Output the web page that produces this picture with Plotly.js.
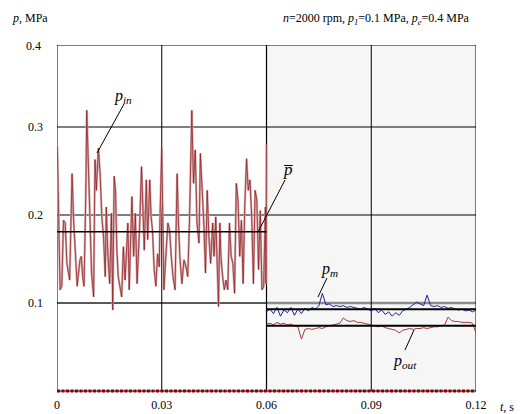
<!DOCTYPE html>
<html>
<head>
<meta charset="utf-8">
<script src="https://cdn.plot.ly/plotly-3.0.1.min.js"></script>
<style>html,body{margin:0;padding:0;background:#fff;}#chart{width:521px;height:414px;}</style>
</head>
<body>
<div id="chart"></div>
<script>
// ---- data ----
const xTickVals = [0, 0.03, 0.06, 0.09, 0.12];
const xTickText = ["0", "0.03", "0.06", "0.09", "0.12"];
const yTickVals = [0.1, 0.2, 0.3];
const yTickText = ["0.1", "0.2", "0.3"];

// inlet pressure p_in, first half (time in ms)
const tInMs = [0.10,0.88,1.37,1.86,2.35,2.84,3.63,4.31,4.80,5.29,5.78,6.57,6.96,7.35,7.74,8.23,8.53,8.92,9.51,9.90,
  10.49,10.88,11.27,11.86,12.35,12.84,13.33,13.82,14.11,14.60,15.09,15.58,15.97,16.37,16.76,17.15,17.54,18.03,18.52,19.01,
  19.50,20.29,20.68,21.46,21.95,22.44,22.93,23.62,24.21,24.60,24.99,25.58,25.97,26.56,26.95,27.34,27.83,28.32,28.81,29.30,
  29.50,30.00,30.60,31.75,32.24,32.73,33.22,33.81,34.40,34.79,35.18,35.77,36.36,36.95,37.44,37.93,38.61,39.10,39.59,40.08,
  40.67,41.06,41.55,42.04,42.53,43.02,43.51,44.00,44.59,44.98,45.47,45.96,46.26,46.65,46.94,47.43,47.92,48.41,48.90,49.39,
  49.88,50.37,50.86,51.35,51.84,52.33,52.82,53.31,53.80,54.29,54.78,55.27,55.76,56.25,56.74,57.23,57.72,58.21,58.70,59.19,
  59.68,59.85,60.00];
const pIn = [0.278,0.115,0.119,0.194,0.191,0.145,0.126,0.247,0.191,0.145,0.119,0.149,0.153,0.130,0.119,0.221,0.319,0.266,0.191,0.134,
  0.107,0.263,0.228,0.276,0.247,0.198,0.175,0.130,0.209,0.153,0.122,0.202,0.092,0.244,0.228,0.160,0.130,0.119,0.107,0.164,
  0.126,0.191,0.115,0.221,0.153,0.202,0.122,0.183,0.255,0.209,0.160,0.240,0.172,0.240,0.198,0.183,0.138,0.119,0.156,0.141,
  0.198,0.276,0.115,0.191,0.183,0.153,0.130,0.115,0.247,0.191,0.153,0.122,0.149,0.141,0.130,0.191,0.319,0.236,0.274,0.191,
  0.168,0.270,0.236,0.191,0.134,0.228,0.175,0.145,0.191,0.153,0.198,0.111,0.096,0.191,0.153,0.130,0.115,0.126,0.115,0.191,
  0.153,0.145,0.111,0.236,0.217,0.153,0.194,0.122,0.213,0.264,0.228,0.240,0.198,0.122,0.228,0.217,0.138,0.205,0.115,0.119,
  0.209,0.122,0.280];

// second half: p_m and p_out
const tOut = [0.060,0.061,0.062,0.063,0.064,0.065,0.066,0.067,0.068,0.069,0.070,0.071,0.072,0.073,0.074,0.075,0.076,0.077,0.078,0.079,
  0.080,0.081,0.082,0.083,0.084,0.085,0.086,0.087,0.088,0.089,0.090,0.091,0.092,0.093,0.094,0.095,0.096,0.097,0.098,0.099,
  0.100,0.101,0.102,0.103,0.104,0.105,0.106,0.107,0.108,0.109,0.110,0.111,0.112,0.113,0.114,0.115,0.116,0.117,0.118,0.119,0.120];
const pM = [0.090,0.093,0.088,0.095,0.085,0.092,0.089,0.095,0.086,0.093,0.088,0.094,0.091,0.095,0.093,0.097,0.111,0.098,0.099,0.096,
  0.097,0.096,0.097,0.095,0.096,0.095,0.094,0.093,0.095,0.093,0.091,0.094,0.089,0.092,0.087,0.090,0.085,0.089,0.086,0.091,
  0.093,0.095,0.098,0.101,0.099,0.097,0.109,0.097,0.096,0.097,0.095,0.096,0.094,0.095,0.093,0.092,0.093,0.091,0.092,0.090,0.092];
const pOut = [0.076,0.077,0.075,0.078,0.076,0.077,0.075,0.076,0.074,0.073,0.059,0.070,0.071,0.070,0.071,0.072,0.071,0.073,0.074,0.075,
  0.076,0.077,0.083,0.080,0.079,0.080,0.078,0.078,0.077,0.076,0.075,0.074,0.073,0.074,0.072,0.071,0.070,0.069,0.066,0.069,
  0.070,0.071,0.070,0.071,0.071,0.072,0.071,0.072,0.073,0.073,0.074,0.075,0.084,0.080,0.079,0.079,0.078,0.078,0.078,0.077,0.066];

// mean levels
const tBar = [0, 0.06];
const pBar = [0.181, 0.181];
const tMean2 = [0.06, 0.12];
const pMMean = [0.0928, 0.0928];
const pOutMean = [0.0742, 0.0742];
const tZero = [0, 0.12];
const pZero = [0, 0];

// ---- layout helpers (pixel -> paper) ----
const L = 57, R = 45, T = 45, B = 20, W = 521, H = 414;
const pw = W - L - R, ph = H - T - B;
const px = x => (x - L) / pw;
const py = y => (H - B - y) / ph;
const YTOP = 0.3932;
const serif = '"Liberation Serif", "DejaVu Serif", serif';

const tIn = tInMs.map(v => v / 1000);

const traces = [
  {x: tIn, y: pIn, mode: "lines", line: {color: "#d2aaab", width: 2.2}, hoverinfo: "skip"},
  {x: tIn, y: pIn, mode: "lines", line: {color: "#8e1218", width: 0.7}, hoverinfo: "skip"},
  {x: tOut, y: pOut, mode: "lines", line: {color: "#a8383c", width: 1}, hoverinfo: "skip"},
  {x: tOut, y: pM, mode: "lines", line: {color: "#1c22a0", width: 1}, hoverinfo: "skip"},
  {x: tBar, y: pBar, mode: "lines", line: {color: "#000", width: 1.6}, hoverinfo: "skip"},
  {x: tMean2, y: pMMean, mode: "lines", line: {color: "#000", width: 2}, hoverinfo: "skip"},
  {x: tMean2, y: pOutMean, mode: "lines", line: {color: "#000", width: 2}, hoverinfo: "skip"},
  {x: tZero, y: pZero, mode: "lines", line: {color: "#8b0000", width: 3, dash: "3px,1.5px"}, hoverinfo: "skip"}
];

const shapes = [
  {type: "rect", xref: "x", yref: "y", x0: 0.06, x1: 0.12, y0: 0, y1: YTOP, fillcolor: "#f6f6f6", line: {width: 0}, layer: "below"},
  {type: "line", xref: "x", yref: "y", x0: 0, x1: 0.12, y0: 0.3, y1: 0.3, line: {color: "#000", width: 1}, layer: "below"},
  {type: "line", xref: "x", yref: "y", x0: 0, x1: 0.12, y0: 0.2, y1: 0.2, line: {color: "#000", width: 1}, layer: "below"},
  {type: "line", xref: "x", yref: "y", x0: 0, x1: 0.06, y0: 0.1, y1: 0.1, line: {color: "#222", width: 1.5}, layer: "below"},
  {type: "line", xref: "x", yref: "y", x0: 0.06, x1: 0.12, y0: 0.1, y1: 0.1, line: {color: "#8c8c8c", width: 2.5}, layer: "below"},
  {type: "line", xref: "x", yref: "y", x0: 0.03, x1: 0.03, y0: 0, y1: YTOP, line: {color: "#000", width: 1}, layer: "below"},
  {type: "line", xref: "x", yref: "y", x0: 0.06, x1: 0.06, y0: 0, y1: YTOP, line: {color: "#000", width: 1.2}, layer: "below"},
  {type: "line", xref: "x", yref: "y", x0: 0.09, x1: 0.09, y0: 0, y1: YTOP, line: {color: "#000", width: 1}, layer: "below"},
  {type: "rect", xref: "x", yref: "y", x0: 0, x1: 0.12, y0: 0, y1: YTOP, line: {color: "#000", width: 1}, layer: "below"},
  // leader lines
  {type: "line", xref: "paper", yref: "paper", x0: px(124), y0: py(104), x1: px(97), y1: py(153), line: {color: "#000", width: 1}},
  {type: "line", xref: "paper", yref: "paper", x0: px(285), y0: py(180), x1: px(258), y1: py(232), line: {color: "#000", width: 1}},
  {type: "line", xref: "paper", yref: "paper", x0: px(327), y0: py(278), x1: px(318), y1: py(297), line: {color: "#000", width: 1}},
  {type: "line", xref: "paper", yref: "paper", x0: px(405), y0: py(350), x1: px(414), y1: py(330), line: {color: "#000", width: 1}}
];

const ann = (x, y, text, size, xanchor) => ({
  xref: "paper", yref: "paper", x: px(x), y: py(y), text: text, showarrow: false,
  xanchor: xanchor || "center", yanchor: "middle", font: {family: serif, size: size, color: "#000"}
});

const annotations = [
  ann(123, 96, "<i>p</i><sub><i>in</i></sub>", 16),
  ann(288, 169, "<i>p\u0305</i>", 17),
  ann(329, 269, "<i>p</i><sub><i>m</i></sub>", 16),
  ann(405, 361, "<i>p</i><sub><i>out</i></sub>", 16),
  ann(10, 18, "<i>p</i>, MPa", 12, "left"),
  ann(472, 19, "<i>n</i>=2000 rpm, <i>p</i><sub><i>1</i></sub>=0.1 MPa, <i>p</i><sub><i>e</i></sub>=0.4 MPa", 12, "right"),
  ann(43, 46, "0.4", 12, "right"),
  ann(498, 407, "<i>t</i>, s", 12, "left")
];

const layout = {
  width: W, height: H,
  margin: {l: L, r: R, t: T, b: B, pad: 0},
  paper_bgcolor: "#fff", plot_bgcolor: "#fff",
  showlegend: false,
  font: {family: serif, size: 12, color: "#000"},
  xaxis: {range: [0, 0.12], tickvals: xTickVals, ticktext: xTickText, showgrid: false, zeroline: false,
          showline: false, ticks: "", ticklabelstandoff: 2, tickfont: {family: serif, size: 12, color: "#000"}},
  yaxis: {range: [-0.0034, YTOP], tickvals: yTickVals, ticktext: yTickText, showgrid: false, zeroline: false,
          showline: false, ticks: "", ticklabelstandoff: 13, tickfont: {family: serif, size: 12, color: "#000"}},
  shapes: shapes,
  annotations: annotations
};

Plotly.newPlot("chart", traces, layout, {displayModeBar: false, staticPlot: true});
</script>
</body>
</html>
